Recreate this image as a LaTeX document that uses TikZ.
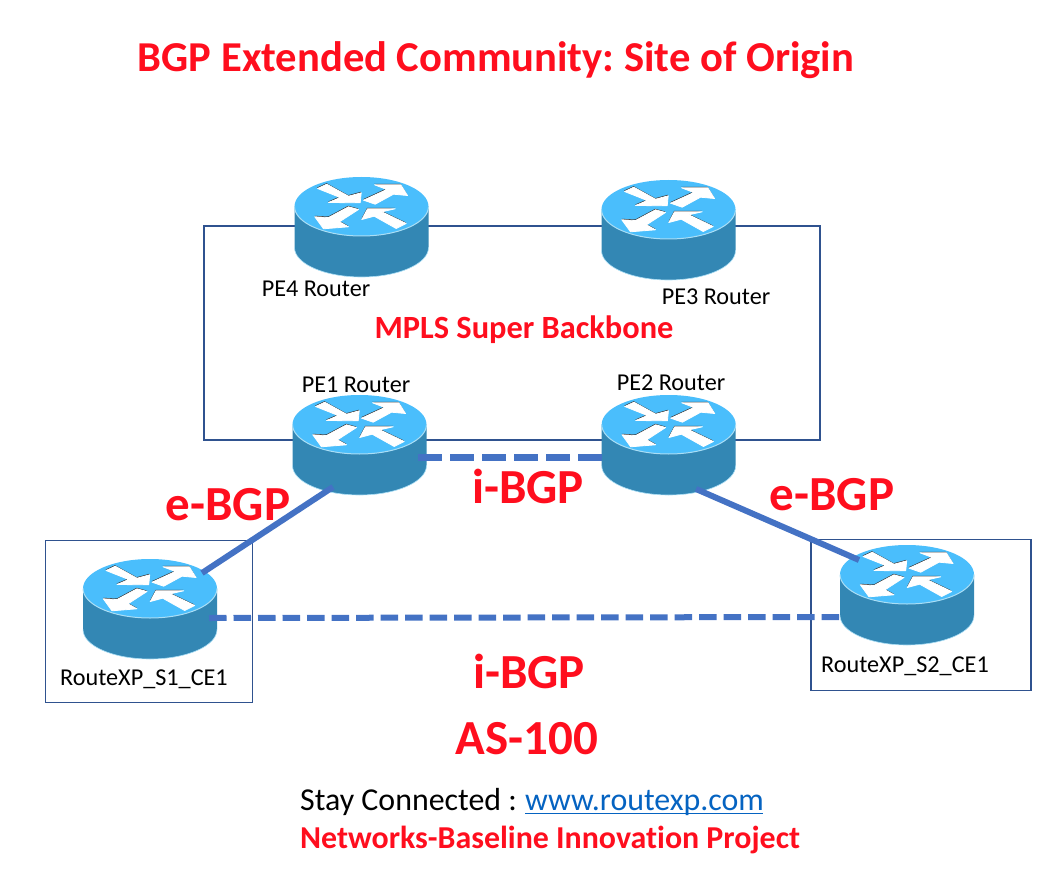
\documentclass[tikz,border=0pt]{standalone}
\usepackage{xcolor}
\usepackage{fontspec}
\setmainfont[Ligatures=NoCommon]{Carlito}
\frenchspacing
\usetikzlibrary{positioning}
\definecolor{rtrtop}{RGB}{74,190,252}
\definecolor{rtrside}{RGB}{51,135,180}
\definecolor{rtrrim}{RGB}{170,222,245}
\definecolor{linkblue}{RGB}{68,114,196}
\definecolor{framed}{RGB}{47,82,143}
\definecolor{txtred}{RGB}{255,14,30}
\definecolor{urlblue}{RGB}{5,99,193}
\def\rtrarrows{
  (-44,-18) -- (-34.7,-22.3) -- (-13,-10.3) -- (-0.3,-13.7) -- (-1.3,-3.7) -- (-33,-4) -- (-21.3,-9) -- cycle
  (2,-6.3) -- (25.3,-17) -- (13,-21.7) -- (39.3,-21.7) -- (46,-11) -- (32,-12.3) -- (13.7,-2.3) -- cycle
  (-13,0.3) -- (-3,3) -- (-22,15.3) -- (-13,20.3) -- (-38,22.3) -- (-46.7,10.3) -- (-33,11) -- cycle
  (0.3,13) -- (6,2.3) -- (33.7,2.3) -- (20.3,5.3) -- (44.7,17) -- (34.7,22) -- (12.7,9.7) -- cycle
}
\tikzset{
  rtrlabel/.style={anchor=base, inner sep=0pt, text=black, font=\fontsize{24.2}{26}\selectfont},
  redlabel/.style={anchor=base, inner sep=0pt, text=txtred, font=\fontsize{49}{52}\selectfont\bfseries},
  sitebox/.style={rectangle, draw=framed, line width=1.2pt},
  backbone/.style={draw=framed, line width=1.2pt},
  ebgp/.style={draw=linkblue, line width=6pt},
  ibgp/.style={draw=linkblue, line width=7pt, dash pattern=on 24pt off 8pt},
  ibgpsite/.style={draw=linkblue, line width=6pt, dash pattern=on 17.5pt off 7pt},
  router/.pic={
    \fill[rtrside] (-67,0) -- (-67,41) arc (180:0:67 and 29.5) -- (67,0) -- cycle;
    \draw[rtrrim, line width=0.6pt] (-67,41) arc (180:0:67 and 29.5);
    \fill[rtrtop] (0,0) ellipse (67 and 29.5);
    \draw[rtrrim, line width=1pt] (-67,0) arc (180:0:67 and 29.5);
    \fill[black!80, shift={(-0.3,-1)}] \rtrarrows;
    \filldraw[white, line width=0.8pt, line join=round] \rtrarrows;
    % link ends on the router body
    \coordinate (-sw) at (-26.5,62.5);
    \coordinate (-se) at (27.3,64.5);
    \coordinate (-ne) at (52,-15.5);
    \coordinate (-nw) at (-48,-14.5);
    \coordinate (-e) at (58.5,33);
    \coordinate (-w) at (-67,33);
    \coordinate (-ce) at (59,29.5);
    \coordinate (-cw) at (-68,42.5);
  }
}
\begin{document}
\begin{tikzpicture}[x=1pt, y=-1pt]
  \useasboundingbox (0,0) rectangle (1062,874);

  % Super backbone ring
  \coordinate (ringnw) at (204,226);
  \coordinate (ringse) at (820,440);
  \draw[backbone] (ringnw) rectangle (ringse);

  % Site boxes
  \node[sitebox, minimum width=206.5pt, minimum height=162pt] (site1) at (149,621.7) {};
  \node[sitebox, minimum width=220pt, minimum height=151.4pt] (site2) at (920.9,615) {};

  % Routers
  \pic (pe4) at (361.5,206.5) {router};
  \pic (pe3) at (668.5,209.5) {router};
  \pic (pe1) at (359.5,424.5) {router};
  \pic (pe2) at (668.7,424.5) {router};
  \pic (ce1) at (150,588.5) {router};
  \pic (ce2) at (907,574.5) {router};

  % Links
  \draw[ebgp] (pe1-sw) -- (ce1-ne);
  \draw[ebgp] (pe2-se) -- (ce2-nw);
  \draw[ibgp] (pe1-e) -- (pe2-w);
  \draw[ibgpsite] (ce1-ce) -- (ce2-cw);

  % Router names
  \node[rtrlabel] (pe4name) at (316,297) {PE4 Router};
  \node[rtrlabel] (pe3name) at (716,305) {PE3 Router};
  \node[rtrlabel] (pe1name) at (356,392) {PE1 Router};
  \node[rtrlabel] (pe2name) at (671,390) {PE2 Router};
  \node[rtrlabel] (ce1name) at (144,685) {RouteXP\_S1\_CE1};
  \node[rtrlabel] (ce2name) at (905,672) {RouteXP\_S2\_CE1};

  % Red captions
  \node[redlabel, font=\fontsize{42.6}{46}\selectfont\bfseries] (title) at (496,72) {BGP Extended Community: Site of Origin};
  \node[redlabel, font=\fontsize{32.4}{35}\selectfont\bfseries] (mpls) at (524,338) {MPLS Super Backbone};
  \node[redlabel] (ebgpleft) at (228,520) {e-BGP};
  \node[redlabel] (ebgpright) at (832,510) {e-BGP};
  \node[redlabel] (ibgptop) at (528,503) {i-BGP};
  \node[redlabel] (ibgpbottom) at (529,688) {i-BGP};
  \node[redlabel] (asnum) at (527,754) {AS-100};

  % Footer
  \node[rtrlabel, anchor=base west, font=\fontsize{31.9}{34}\selectfont] (stay) at (300,810) {Stay Connected :};
  \node[rtrlabel, anchor=base west, text=urlblue, font=\fontsize{31.9}{34}\selectfont] (url) at (525,810) {www.routexp.com};
  \draw[urlblue, line width=1.2pt] (url.base west) ++(0,3.5) -- ++(238,0);
  \node[redlabel, anchor=base west, font=\fontsize{31.9}{34}\selectfont\bfseries] (project) at (300,848) {Networks-Baseline Innovation Project};
\end{tikzpicture}
\end{document}
